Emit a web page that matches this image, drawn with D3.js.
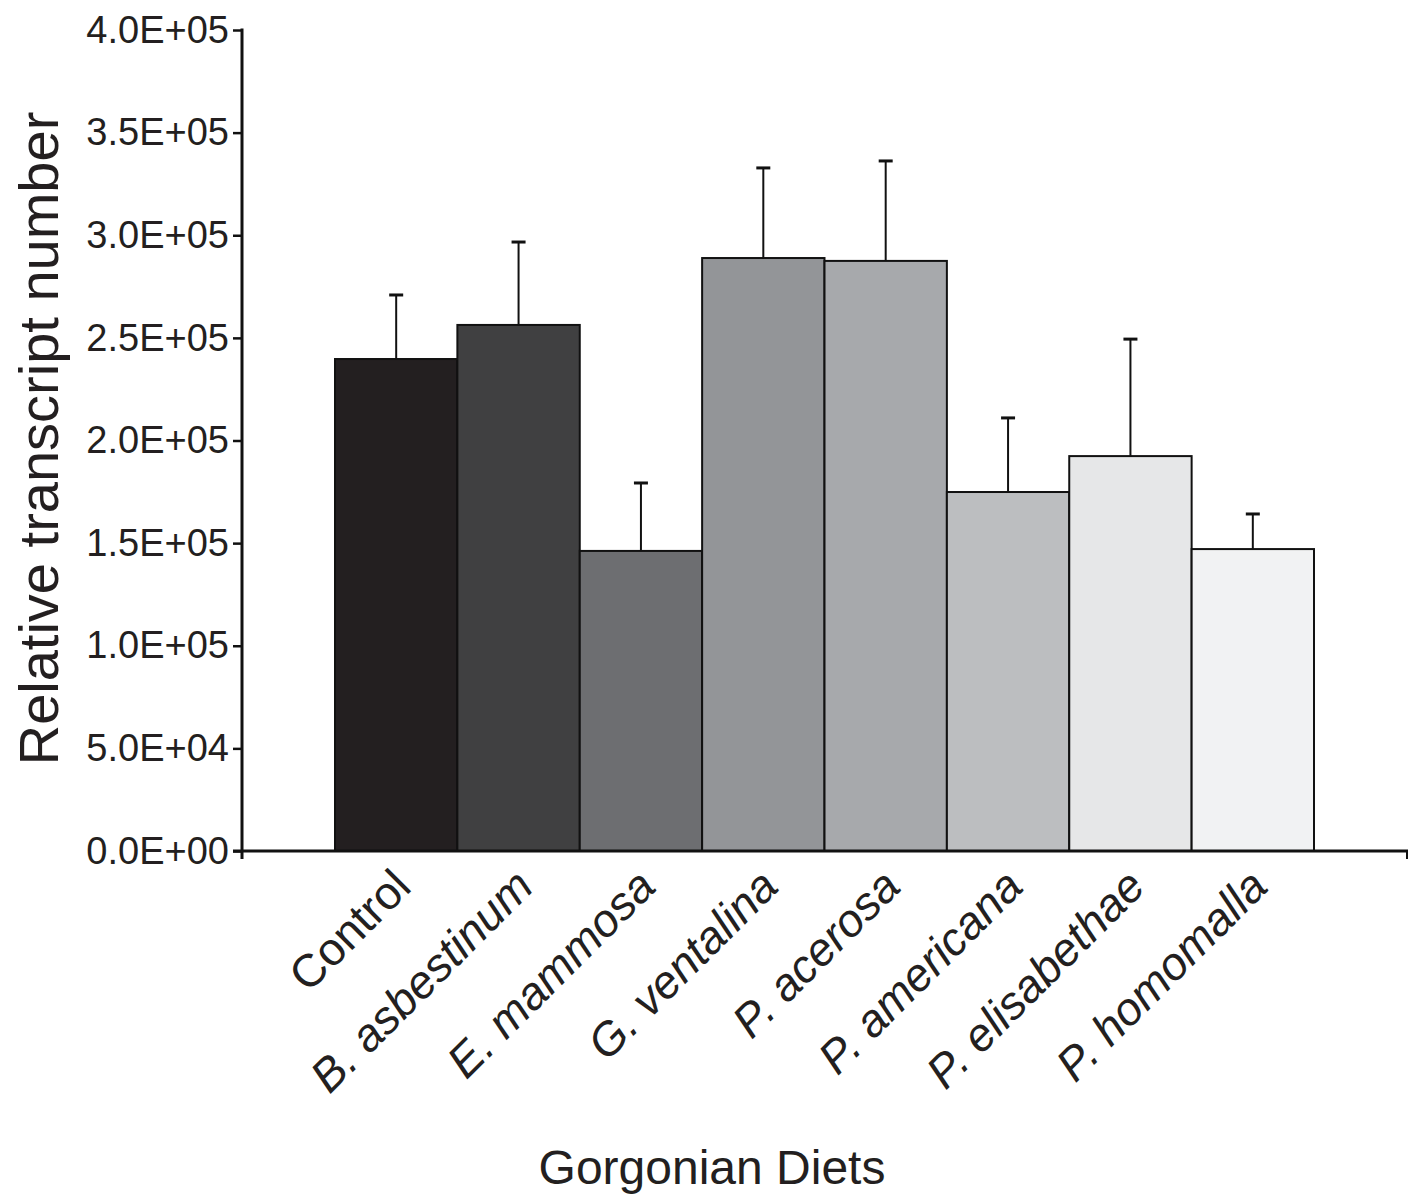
<!DOCTYPE html>
<html>
<head>
<meta charset="utf-8">
<script src="https://cdn.jsdelivr.net/npm/d3@7"></script>
<style>
  body { margin: 0; background: #fff; }
  text { font-family: "Liberation Sans", Arial, sans-serif; fill: #231f20; }
</style>
</head>
<body>
<div id="chart"></div>
<script>
// values
const diets = ["Control", "B. asbestinum", "E. mammosa", "G. ventalina", "P. acerosa", "P. americana", "P. elisabethae", "P. homomalla"];
const means = [239700, 256300, 146200, 288900, 287500, 174900, 192400, 147100];
const upper = [270900, 296700, 179300, 332800, 336200, 211000, 249400, 164200];
const fills = ["#231f20", "#404041", "#6d6e71", "#939598", "#a7a9ac", "#bcbec0", "#e6e7e8", "#f1f2f3"];
const yTicks = [0, 50000, 100000, 150000, 200000, 250000, 300000, 350000, 400000];

const width = 1411, height = 1200;

const svg = d3.select("#chart").append("svg")
  .attr("width", width)
  .attr("height", height);

const x = d3.scaleBand()
  .domain(diets)
  .range([335, 1314])
  .padding(0);

const y = d3.scaleLinear()
  .domain([0, 400000])
  .range([851, 30]);

const fmt = v => {
  const s = v.toExponential(1).toUpperCase();  // e.g. 2.5E+5
  return s.replace(/E([+-])(\d)$/, "E$10$2");
};

// bars
svg.selectAll("rect.bar")
  .data(diets)
  .join("rect")
  .attr("class", "bar")
  .attr("x", d => x(d))
  .attr("y", (d, i) => y(means[i]))
  .attr("width", x.bandwidth())
  .attr("height", (d, i) => y(0) - y(means[i]))
  .attr("fill", (d, i) => fills[i])
  .attr("stroke", "#111")
  .attr("stroke-width", 2);

// error bars (upper only)
const eb = svg.selectAll("g.err")
  .data(diets)
  .join("g")
  .attr("class", "err");
eb.append("line")
  .attr("x1", d => x(d) + x.bandwidth() / 2)
  .attr("x2", d => x(d) + x.bandwidth() / 2)
  .attr("y1", (d, i) => y(means[i]))
  .attr("y2", (d, i) => y(upper[i]))
  .attr("stroke", "#111").attr("stroke-width", 2);
eb.append("line")
  .attr("x1", d => x(d) + x.bandwidth() / 2 - 7)
  .attr("x2", d => x(d) + x.bandwidth() / 2 + 7)
  .attr("y1", (d, i) => y(upper[i]))
  .attr("y2", (d, i) => y(upper[i]))
  .attr("stroke", "#111").attr("stroke-width", 3);

// y axis
const yAxis = d3.axisLeft(y)
  .tickValues(yTicks)
  .tickFormat(fmt)
  .tickSize(9)
  .tickPadding(4);
const gy = svg.append("g")
  .attr("transform", "translate(242,0)")
  .call(yAxis);
gy.select(".domain").remove();
gy.selectAll(".tick line").attr("stroke", "#111").attr("stroke-width", 2.5);
gy.selectAll(".tick text")
  .style("font-size", "38px")
  .attr("fill", "#231f20");
svg.append("line")
  .attr("x1", 242).attr("x2", 242)
  .attr("y1", y(400000) - 1.5).attr("y2", y(0) + 8)
  .attr("stroke", "#111").attr("stroke-width", 3);

// x axis line
svg.append("line")
  .attr("x1", 233).attr("x2", 1408)
  .attr("y1", y(0)).attr("y2", y(0))
  .attr("stroke", "#111").attr("stroke-width", 3);
svg.append("line")
  .attr("x1", 1407).attr("x2", 1407)
  .attr("y1", y(0)).attr("y2", y(0) + 8)
  .attr("stroke", "#111").attr("stroke-width", 2);

// category labels
svg.selectAll("text.cat")
  .data(diets)
  .join("text")
  .attr("class", "cat")
  .attr("transform", d => `translate(${x(d) + x.bandwidth() / 2 + 17},${889}) rotate(-45)`)
  .attr("text-anchor", "end")
  .style("font-size", "46px")
  .style("font-style", d => d === "Control" ? "normal" : "italic")
  .text(d => d);

// axis titles
svg.append("text")
  .attr("transform", `translate(58,${y(200000) - 2}) rotate(-90)`)
  .attr("text-anchor", "middle")
  .style("font-size", "56px")
  .text("Relative transcript number");

svg.append("text")
  .attr("x", 712)
  .attr("y", 1184)
  .attr("text-anchor", "middle")
  .style("font-size", "48px")
  .text("Gorgonian Diets");
</script>
</body>
</html>
